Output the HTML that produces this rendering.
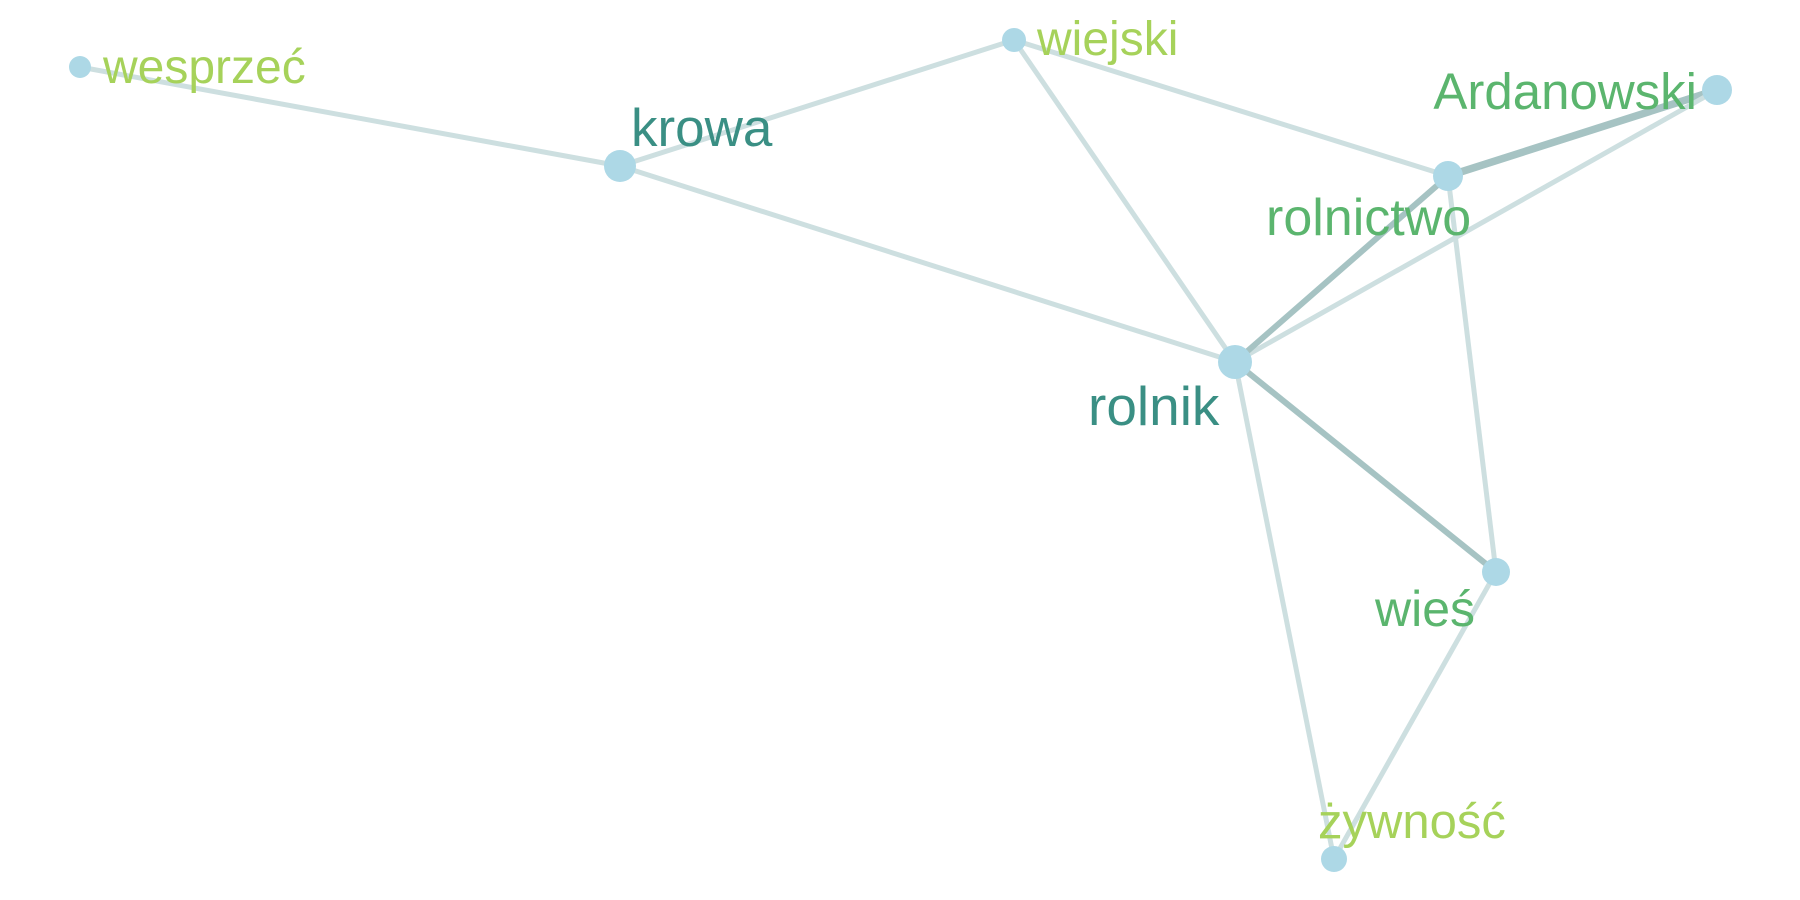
<!DOCTYPE html>
<html><head><meta charset="utf-8"><style>
html,body{margin:0;padding:0;background:#fff;}
svg{display:block;font-family:"Liberation Sans",Arial,sans-serif;}
</style></head><body>
<svg id="chart" width="1800" height="900" viewBox="0 0 1800 900"></svg>
<script>
const nodeNames = ["wesprzeć","krowa","wiejski","Ardanowski","rolnictwo","rolnik","wieś","żywność"];
const nodeX = [80,620,1014,1717,1448,1235,1496,1334];
const nodeY = [67,166,40,90,176,362,572,859];
const nodeSize = [11,16,12,15,15,17,14,13];
const edgeFrom = [0,1,1,2,2,4,3,4,4,5,5,6];
const edgeTo   = [1,2,5,5,4,3,5,5,6,6,7,7];
const edgeWeight=[1,1,1,1,1,3,1,2,1,2,1,1];
const labelX = [103,631,1037,1697,1266,1088,1375,1318];
const labelY = [83,146,55,109,235,425,626,838];
const labelSize=[48,53,48,51,52,55,50,49];
const labelAnchor=["start","start","start","end","start","start","start","start"];
const labelColor=["#a6d25a","#3a8f84","#a6d25a","#5bb56e","#5bb56e","#3a8f84","#5bb56e","#a6d25a"];
const svg=document.getElementById('chart');
const NS="http://www.w3.org/2000/svg";
function mk(t,a){const e=document.createElementNS(NS,t);for(const k in a)e.setAttribute(k,a[k]);return e;}
const gE=mk('g',{});


svg.appendChild(gE);
for(let i=0;i<edgeFrom.length;i++){
  const a=edgeFrom[i],b=edgeTo[i],w=edgeWeight[i];
  const l=mk('line',{x1:nodeX[a],y1:nodeY[a],x2:nodeX[b],y2:nodeY[b],stroke:w>1?'#a6c3c3':'#cddfe0','stroke-width':w>2?7.5:(w>1?6:5)});
  
  
  gE.appendChild(l);
}
const gN=mk('g',{});


svg.appendChild(gN);
for(let i=0;i<nodeNames.length;i++){
  const c=mk('circle',{cx:nodeX[i],cy:nodeY[i],r:nodeSize[i],fill:'#add8e6'});
  
  
  gN.appendChild(c);
}
const gL=mk('g',{});


svg.appendChild(gL);
for(let i=0;i<nodeNames.length;i++){
  const t=mk('text',{x:labelX[i],y:labelY[i],'font-size':labelSize[i],fill:labelColor[i],'text-anchor':labelAnchor[i]});
  t.textContent=nodeNames[i];
  
  
  gL.appendChild(t);
}
</script>
</body></html>
